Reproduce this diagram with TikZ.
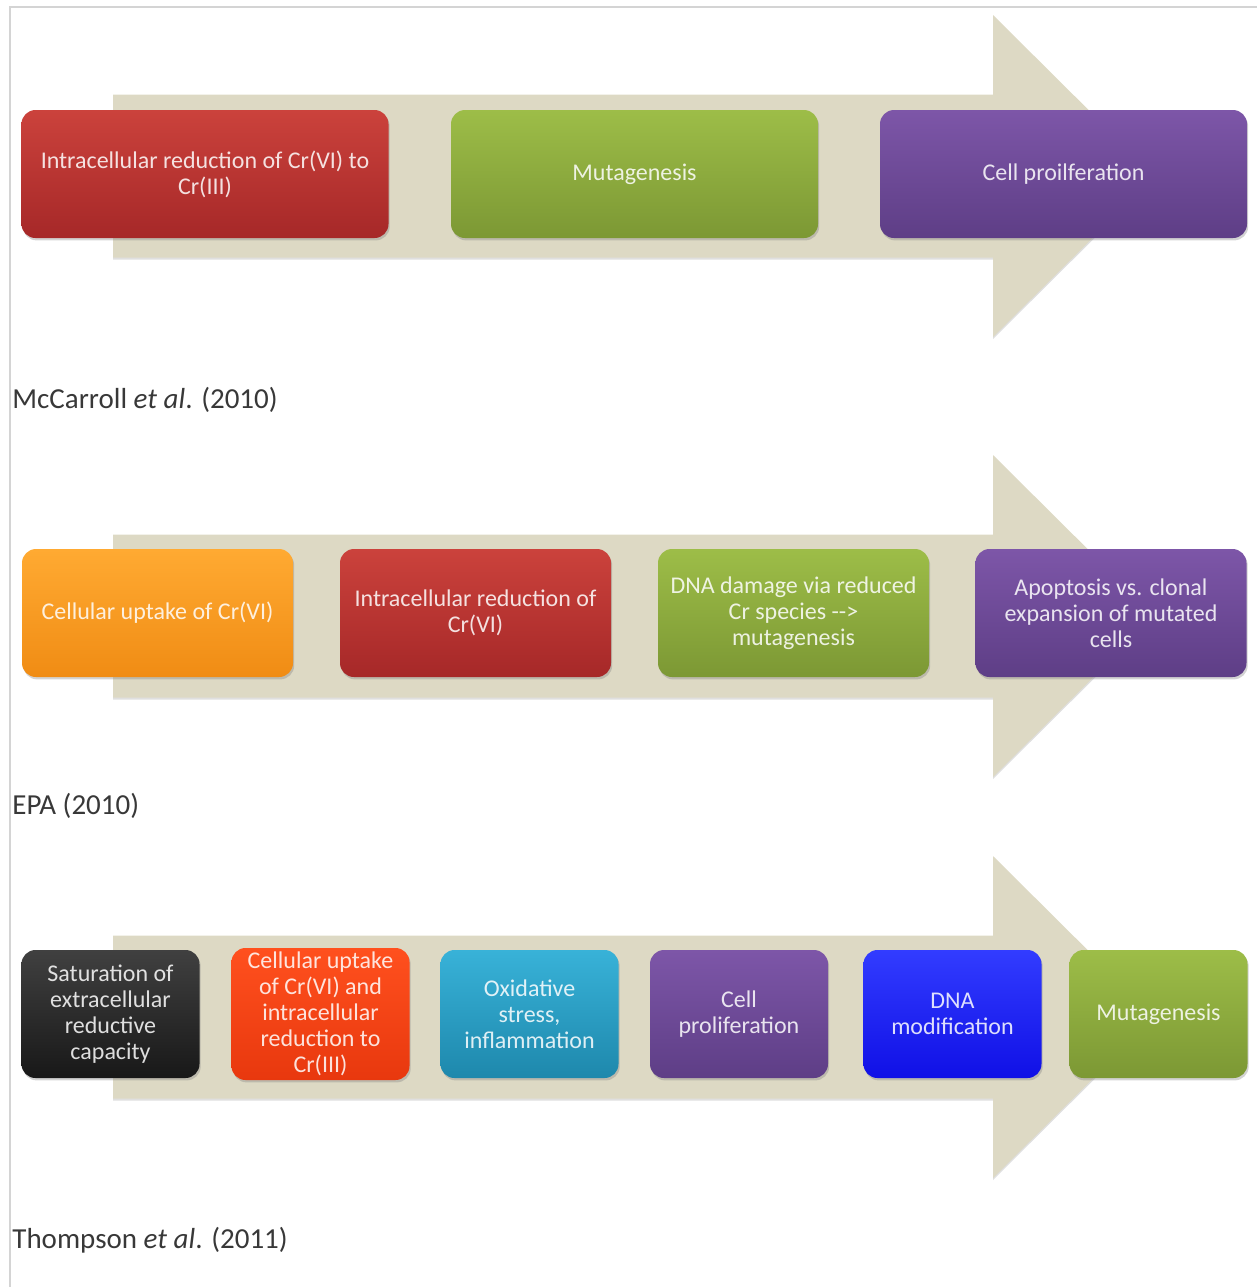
\documentclass[tikz,border=0pt]{standalone}
\usepackage{fontspec}
\setmainfont{Carlito}
\usetikzlibrary{shadows}

\definecolor{tan}{HTML}{DDD9C4}
\definecolor{frame}{HTML}{D4D4D4}

\begin{document}
\begin{tikzpicture}[x=0.5pt, y=-0.5pt,
    stage/.style={rounded corners=7pt, align=center, inner sep=2pt,
        font=\fontsize{12}{13}\selectfont, text=white, text opacity=0.85,
        drop shadow={opacity=0.35, shadow xshift=0.6pt, shadow yshift=-1.2pt}},
    wide/.style={stage, minimum width=183.5pt, minimum height=64pt},
    mid/.style={stage, minimum width=135.5pt, minimum height=64pt},
    slim/.style={stage, minimum width=89pt, minimum height=64pt},
    redbox/.style={top color={rgb,255:red,203;green,66;blue,60}, bottom color={rgb,255:red,166;green,40;blue,40}},
    greenbox/.style={top color={rgb,255:red,157;green,189;blue,72}, bottom color={rgb,255:red,124;green,152;blue,52}},
    purplebox/.style={top color={rgb,255:red,125;green,86;blue,168}, bottom color={rgb,255:red,94;green,62;blue,134}},
    orangebox/.style={top color={rgb,255:red,255;green,170;blue,50}, bottom color={rgb,255:red,240;green,140;blue,20}},
    blackbox/.style={top color={rgb,255:red,64;green,64;blue,64}, bottom color={rgb,255:red,24;green,24;blue,24}},
    flamebox/.style={top color={rgb,255:red,255;green,80;blue,30}, bottom color={rgb,255:red,232;green,56;blue,14}},
    cyanbox/.style={top color={rgb,255:red,56;green,178;blue,216}, bottom color={rgb,255:red,30;green,136;blue,172}},
    bluebox/.style={top color={rgb,255:red,50;green,60;blue,255}, bottom color={rgb,255:red,16;green,16;blue,230}},
    source/.style={anchor=west, inner sep=0pt, font=\fontsize{14.5}{16}\selectfont, text=black!78}
]
    \useasboundingbox (0,0) rectangle (1257,1287);
    \draw[frame, line width=1pt] (10,1287) -- (10,7) -- (1257,7);

    \foreach \yc in {176,616,1017}
        \fill[tan, drop shadow={opacity=0.25, shadow xshift=0pt, shadow yshift=-1pt}]
            (113,\yc-81.5) -- (993,\yc-81.5) -- (993,\yc-161) -- (1155,\yc)
            -- (993,\yc+161) -- (993,\yc+81.5) -- (113,\yc+81.5) -- cycle;

    \node[wide, redbox] (mreduce) at (205,174) {Intracellular reduction of Cr(VI) to\\Cr(III)};
    \node[wide, greenbox] (mmutate) at (634.5,174) {Mutagenesis};
    \node[wide, purplebox] (mprolif) at (1063.5,174) {Cell proilferation};
    \node[source] (mccarroll) at (12,400) {McCarroll \textit{et al}. (2010)};

    \node[mid, orangebox] (euptake) at (157.5,613) {Cellular uptake of Cr(VI)};
    \node[mid, redbox] (ereduce) at (475.5,613) {Intracellular reduction of\\Cr(VI)};
    \node[mid, greenbox] (edamage) at (793.5,613) {DNA damage via reduced\\Cr species -{}->\\mutagenesis};
    \node[mid, purplebox] (eclonal) at (1111,613) {Apoptosis vs. clonal\\expansion of mutated\\cells};
    \node[source] (epa) at (12,806) {EPA (2010)};

    \node[slim, blackbox] (tsaturate) at (110.5,1014) {Saturation of\\extracellular\\reductive\\capacity};
    \node[slim, flamebox] (tuptake) at (320.5,1014) {Cellular uptake\\of Cr(VI) and\\intracellular\\reduction to\\Cr(III)};
    \node[slim, cyanbox] (tstress) at (529.5,1014) {Oxidative\\stress,\\inflammation};
    \node[slim, purplebox] (tprolif) at (739,1014) {Cell\\proliferation};
    \node[slim, bluebox] (tdna) at (952.5,1014) {DNA\\modification};
    \node[slim, greenbox] (tmutate) at (1158.5,1014) {Mutagenesis};
    \node[source] (thompson) at (12,1240) {Thompson \textit{et al}. (2011)};
\end{tikzpicture}
\end{document}
